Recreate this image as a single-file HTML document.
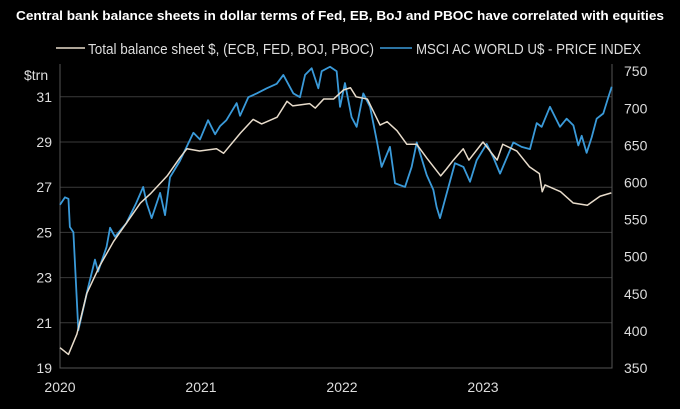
<!DOCTYPE html>
<html><head><meta charset="utf-8"><style>
body{margin:0;background:#000;width:680px;height:404px;overflow:hidden;font-family:"Liberation Sans",sans-serif}
</style></head><body>
<svg width="680" height="404">
<text x="340" y="20" fill="#fff" font-size="13" font-weight="bold" text-anchor="middle" textLength="648" lengthAdjust="spacingAndGlyphs">Central bank balance sheets in dollar terms of Fed, EB, BoJ and PBOC have correlated with equities</text>
<g>
<line x1="56" y1="48" x2="85" y2="48" stroke="#e8dccb" stroke-width="1.5"/>
<text x="88" y="54" fill="#ddd" font-size="15" textLength="286" lengthAdjust="spacingAndGlyphs">Total balance sheet $, (ECB, FED, BOJ, PBOC)</text>
<line x1="380" y1="48" x2="412" y2="48" stroke="#3a9ad9" stroke-width="1.5"/>
<text x="416" y="54" fill="#ddd" font-size="15" textLength="225" lengthAdjust="spacingAndGlyphs">MSCI AC WORLD U$ - PRICE INDEX</text>
</g>
<text x="24" y="80" fill="#ddd" font-size="14">$trn</text>
<g id="grid"></g><g id="axes"></g><g id="lines"></g>
</svg>
<script>
const leftTicks=[19,21,23,25,27,29,31];
const rightTicks=[350,400,450,500,550,600,650,700,750];
const yearTicks=[2020,2021,2022,2023];
const bsDates=[2020.0,2020.06,2020.12,2020.19,2020.28,2020.38,2020.47,2020.57,2020.64,2020.76,2020.85,2020.9,2020.99,2021.11,2021.16,2021.28,2021.37,2021.43,2021.54,2021.61,2021.65,2021.77,2021.81,2021.87,2021.94,2022.01,2022.06,2022.1,2022.18,2022.27,2022.32,2022.39,2022.46,2022.53,2022.6,2022.7,2022.74,2022.79,2022.86,2022.9,2023.0,2023.1,2023.14,2023.24,2023.33,2023.4,2023.42,2023.44,2023.55,2023.64,2023.74,2023.83,2023.91];
const bsValues=[19.9,19.6,20.5,22.3,23.5,24.6,25.4,26.3,26.7,27.5,28.3,28.7,28.6,28.7,28.5,29.4,30.0,29.8,30.1,30.8,30.6,30.7,30.5,30.9,30.9,31.3,31.4,31.0,30.9,29.75,29.9,29.5,28.9,28.9,28.3,27.5,27.8,28.2,28.7,28.2,29.0,28.2,28.9,28.6,27.9,27.6,26.8,27.1,26.8,26.3,26.2,26.6,26.75];
const msciDates=[2020.0,2020.035,2020.06,2020.07,2020.095,2020.13,2020.165,2020.2,2020.248,2020.27,2020.33,2020.355,2020.39,2020.47,2020.54,2020.59,2020.615,2020.65,2020.71,2020.745,2020.78,2020.85,2020.946,2020.993,2021.05,2021.1,2021.135,2021.18,2021.253,2021.277,2021.336,2021.395,2021.466,2021.537,2021.584,2021.655,2021.702,2021.738,2021.785,2021.832,2021.856,2021.915,2021.962,2021.986,2022.021,2022.068,2022.104,2022.151,2022.199,2022.246,2022.281,2022.34,2022.376,2022.447,2022.494,2022.53,2022.601,2022.648,2022.671,2022.695,2022.742,2022.801,2022.861,2022.908,2022.955,2023.026,2023.073,2023.121,2023.215,2023.274,2023.333,2023.381,2023.416,2023.475,2023.546,2023.593,2023.641,2023.676,2023.7,2023.735,2023.771,2023.806,2023.853,2023.889,2023.913];
const msciValues=[570,580,578,540,533,401,430,459,496,480,513,539,527,545,572,594,572,552,586,556,607,629,667,658,684,665,676,684,707,690,715,720,727,733,745,720,715,745,754,727,750,756,750,702,734,688,675,720,702,657,621,648,599,594,621,654,610,590,567,552,585,626,621,601,630,652,634,612,654,648,645,680,675,702,675,686,677,650,663,640,661,686,693,715,729];
const X0=60,X1=612,YB=368;
const xS=t=>X0+(t-2020)*141;
const yL=v=>YB-(v-19)*22.6;
const yR=v=>YB-(v-350)*37.1/50;
const NS='http://www.w3.org/2000/svg';
function mk(tag,attrs,parent,txt){const e=document.createElementNS(NS,tag);for(const k in attrs)e.setAttribute(k,attrs[k]);if(txt!==undefined)e.textContent=txt;parent.appendChild(e);return e;}
const grid=document.getElementById('grid'),axes=document.getElementById('axes'),lines=document.getElementById('lines');
leftTicks.forEach(v=>{
  if(v>19){const g=mk('line',{x1:X0,x2:X1,y1:yL(v),y2:yL(v),stroke:'#3a3a3a','stroke-width':1},grid);
  
  }
  const t=mk('text',{x:52,y:yL(v)+5,fill:'#ddd','font-size':14,'text-anchor':'end'},axes,String(v));
  
  
});
rightTicks.forEach(v=>{
  const t=mk('text',{x:624,y:yR(v)+5,fill:'#ddd','font-size':14},axes,String(v));
  
  
});
yearTicks.forEach(y=>{
  const t=mk('text',{x:xS(y),y:392,fill:'#ddd','font-size':14,'text-anchor':'middle'},axes,String(y));
  
  
});
const ax=mk('path',{d:`M${X0},64V${YB}H${X1}V64`,stroke:'#555',fill:'none','stroke-width':1},axes);


const pm=mk('polyline',{points:msciDates.map((d,i)=>xS(d)+','+yR(msciValues[i])).join(' '),fill:'none',stroke:'#3a9ad9','stroke-width':1.8,'stroke-linejoin':'round'},lines);


const pb=mk('polyline',{points:bsDates.map((d,i)=>xS(d)+','+yL(bsValues[i])).join(' '),fill:'none',stroke:'#e8dccb','stroke-width':1.5,'stroke-linejoin':'round'},lines);


</script>
</body></html>
